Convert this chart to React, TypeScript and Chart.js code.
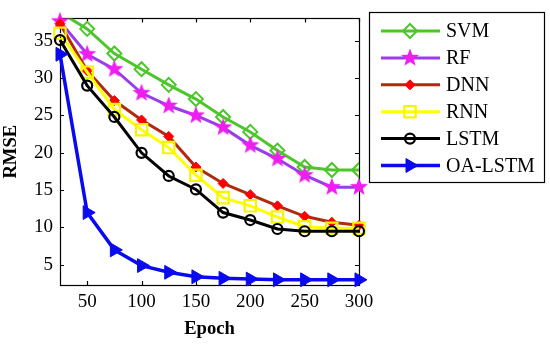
import React, { useEffect, useRef } from 'react';
import { Chart, registerables } from 'chart.js';
import { drawPoint } from 'chart.js/helpers';

Chart.register(...registerables);

const epochs = [25, 50, 75, 100, 125, 150, 175, 200, 225, 250, 275, 300];
const svm = [38.8, 36.6, 33.3, 31.2, 29.1, 27.2, 24.8, 22.8, 20.3, 18.1, 17.7, 17.7];
const rf = [37.6, 33.2, 31.2, 28.0, 26.3, 25.0, 23.4, 21.0, 19.2, 17.0, 15.4, 15.4];
const dnn = [37.3, 31.0, 27.0, 24.4, 22.2, 18.1, 15.9, 14.4, 12.9, 11.5, 10.7, 10.3];
const rnn = [36.0, 30.8, 25.8, 23.1, 20.7, 17.0, 14.0, 12.9, 11.4, 10.1, 9.9, 9.9];
const lstm = [35.1, 29.0, 24.8, 20.0, 16.9, 15.1, 12.0, 11.0, 9.8, 9.5, 9.5, 9.5];
const oaLstm = [33.2, 12.0, 7.0, 4.9, 4.0, 3.4, 3.2, 3.1, 3.0, 3.0, 3.0, 3.0];
const seriesNames = ['SVM', 'RF', 'DNN', 'RNN', 'LSTM', 'OA-LSTM'];
const xTicks = [50, 100, 150, 200, 250, 300];
const yTicks = [5, 10, 15, 20, 25, 30, 35];

const FONT = "'Times New Roman', 'Liberation Serif', serif";

function makeStar(color: string, size: number): HTMLCanvasElement {
  const c = document.createElement('canvas');
  c.width = size;
  c.height = size;
  const ctx = c.getContext('2d')!;
  const cx = size / 2, cy = size / 2;
  const R = size / 2 - 0.5, r = R * 0.42;
  ctx.beginPath();
  for (let i = 0; i < 10; i++) {
    const rad = i % 2 === 0 ? R : r;
    const a = -Math.PI / 2 + (i * Math.PI) / 5;
    const px = cx + rad * Math.cos(a);
    const py = cy + rad * Math.sin(a);
    if (i === 0) ctx.moveTo(px, py); else ctx.lineTo(px, py);
  }
  ctx.closePath();
  ctx.fillStyle = color;
  ctx.fill();
  return c;
}

const boxPlugin = {
  id: 'matlabBox',
  beforeDatasetsDraw(chart: any) {
    const { ctx, chartArea } = chart;
    const { left, top, right, bottom } = chartArea;
    const xs = chart.scales.x, ys = chart.scales.y;
    ctx.save();
    ctx.strokeStyle = '#000';
    ctx.lineWidth = 1.2;
    ctx.strokeRect(Math.round(left) + 0.5, Math.round(top) + 0.5, Math.round(right - left), Math.round(bottom - top));
    const tl = 4;
    ctx.beginPath();
    xTicks.forEach((v) => {
      const px = Math.round(xs.getPixelForValue(v)) + 0.5;
      ctx.moveTo(px, bottom); ctx.lineTo(px, bottom - tl);
      ctx.moveTo(px, top); ctx.lineTo(px, top + tl);
    });
    yTicks.forEach((v) => {
      const py = Math.round(ys.getPixelForValue(v)) + 0.5;
      ctx.moveTo(left, py); ctx.lineTo(left + tl, py);
      ctx.moveTo(right, py); ctx.lineTo(right - tl, py);
    });
    ctx.stroke();
    ctx.restore();
  },
};

const legendPlugin = {
  id: 'matlabLegend',
  afterDraw(chart: any) {
    const { ctx } = chart;
    const bx = 369, by = 12, bw = 175, bh = 170;
    ctx.save();
    ctx.fillStyle = '#fff';
    ctx.fillRect(bx, by, bw, bh);
    ctx.strokeStyle = '#000';
    ctx.lineWidth = 1.2;
    ctx.strokeRect(bx + 0.5, by + 0.5, bw, bh);
    chart.data.datasets.forEach((ds: any, i: number) => {
      const y = 31 + i * 26.9;
      ctx.strokeStyle = ds.borderColor;
      ctx.lineWidth = ds.borderWidth;
      ctx.beginPath();
      ctx.moveTo(381, y);
      ctx.lineTo(440, y);
      ctx.stroke();
      ctx.fillStyle = ds.pointBackgroundColor;
      ctx.strokeStyle = ds.pointBorderColor;
      ctx.lineWidth = ds.pointBorderWidth;
      drawPoint(ctx, {
        pointStyle: ds.pointStyle,
        rotation: ds.pointRotation || 0,
        radius: ds.pointRadius,
        borderWidth: ds.pointBorderWidth,
      } as any, 410, y);
      ctx.fillStyle = '#000';
      ctx.font = `20px ${FONT}`;
      ctx.textBaseline = 'middle';
      ctx.textAlign = 'left';
      ctx.fillText(ds.label, 446, y + 1);
    });
    ctx.restore();
  },
};

export default function App() {
  const ref = useRef<HTMLCanvasElement>(null);
  useEffect(() => {
    if (!ref.current) return;
    const star = makeStar('#f01cf0', 20);
    const pts = (arr: number[]) => epochs.map((x, i) => ({ x, y: arr[i] }));
    const chart = new Chart(ref.current, {
      type: 'line',
      data: {
        datasets: [
          {
            label: seriesNames[0], data: pts(svm), borderColor: '#4cc62a', borderWidth: 3,
            pointStyle: 'rectRot', pointRadius: 7, pointBorderColor: '#4cc62a',
            pointBackgroundColor: 'rgba(255,255,255,0)', pointBorderWidth: 2, clip: 0, order: 6,
          },
          {
            label: seriesNames[1], data: pts(rf), borderColor: '#9b3de8', borderWidth: 3,
            pointStyle: star, pointRadius: 10, pointBorderColor: '#f01cf0',
            pointBackgroundColor: '#f01cf0', pointBorderWidth: 0, clip: false, order: 5,
          },
          {
            label: seriesNames[2], data: pts(dnn), borderColor: '#b02a10', borderWidth: 3,
            pointStyle: 'rectRot', pointRadius: 5, pointBorderColor: '#ff0000',
            pointBackgroundColor: '#ff0000', pointBorderWidth: 1, clip: false, order: 4,
          },
          {
            label: seriesNames[3], data: pts(rnn), borderColor: '#ffff00', borderWidth: 3,
            pointStyle: 'rect', pointRadius: 8, pointBorderColor: '#f5f500',
            pointBackgroundColor: 'rgba(255,255,255,0)', pointBorderWidth: 2.2, clip: false, order: 3,
          },
          {
            label: seriesNames[4], data: pts(lstm), borderColor: '#000000', borderWidth: 3,
            pointStyle: 'circle', pointRadius: 5, pointBorderColor: '#000000',
            pointBackgroundColor: 'rgba(255,255,255,0)', pointBorderWidth: 2.2, clip: false, order: 2,
          },
          {
            label: seriesNames[5], data: pts(oaLstm), borderColor: '#0a0af0', borderWidth: 3.5,
            pointStyle: 'triangle', pointRotation: 90, pointRadius: 8, pointBorderColor: '#0a0af0',
            pointBackgroundColor: '#0a0af0', pointBorderWidth: 1, clip: false, order: 1,
          },
        ] as any,
      },
      options: {
        animation: false,
        responsive: false,
        events: [],
        layout: { padding: { top: 10, right: 191, bottom: 0, left: 0 } },
        plugins: { legend: { display: false }, tooltip: { enabled: false } },
        elements: { line: { tension: 0 } },
        scales: {
          x: {
            type: 'linear', min: 25, max: 300,
            afterBuildTicks: (s: any) => { s.ticks = xTicks.map((v) => ({ value: v })); },
            afterFit: (s: any) => { s.height = 59; },
            grid: { display: false, drawTicks: false },
            border: { display: false },
            ticks: { font: { family: FONT, size: 19 }, color: '#000', padding: 6, maxRotation: 0, autoSkip: false },
            title: { display: true, text: 'Epoch', color: '#000', font: { family: FONT, size: 18.6, weight: 'bold' }, padding: { top: 0, bottom: 4 } },
          },
          y: {
            type: 'linear', min: 2.3, max: 38,
            afterBuildTicks: (s: any) => { s.ticks = yTicks.map((v) => ({ value: v })); },
            afterFit: (s: any) => { s.width = 60; },
            grid: { display: false, drawTicks: false },
            border: { display: false },
            ticks: { font: { family: FONT, size: 19 }, color: '#000', padding: 7, autoSkip: false },
            title: { display: true, text: 'RMSE', color: '#000', font: { family: FONT, size: 18.6, weight: 'bold' }, padding: { top: 0, bottom: 2 } },
          },
        },
      } as any,
      plugins: [boxPlugin, legendPlugin],
    });
    return () => chart.destroy();
  }, []);
  return (
    <div style={{ position: 'absolute', left: 0, top: 0, width: 550, height: 344, background: '#fff' }}>
      <canvas ref={ref} width={550} height={344} style={{ display: 'block' }} />
    </div>
  );
}
